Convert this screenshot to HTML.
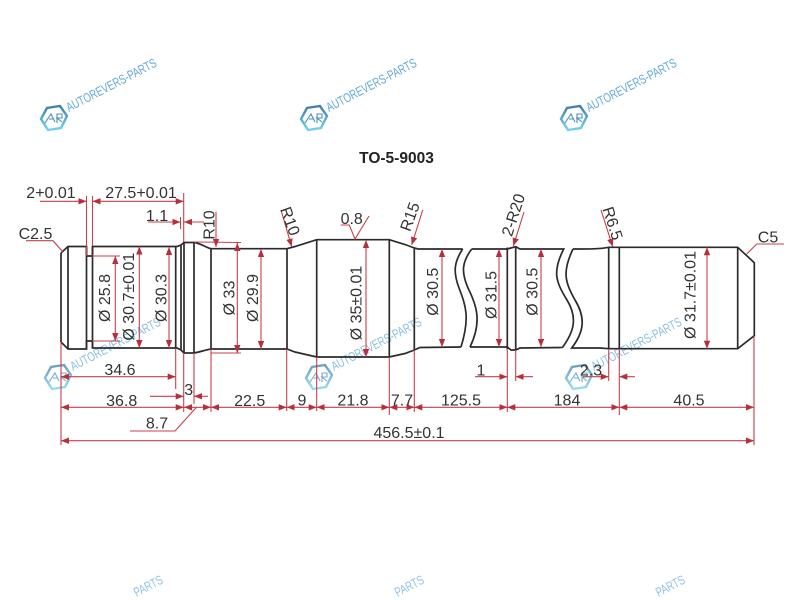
<!DOCTYPE html>
<html><head><meta charset="utf-8"><style>
html,body{margin:0;padding:0;background:#fff;width:800px;height:600px;overflow:hidden}
svg{display:block}
text{font-family:"Liberation Sans",Arial,sans-serif}
.t text{font-size:16px;fill:#333;text-anchor:middle}
.w text{font-size:13px;fill:#62a9d8;stroke:none}
.s path,.s line{fill:none;stroke:#2b2b2b;stroke-width:1.7}
.r line,.r polyline{fill:none;stroke:#c8404a;stroke-width:1.1}
.a line{stroke:#c8404a;stroke-width:1.1;marker-end:url(#h)}
.b line{stroke:#c8404a;stroke-width:1.1;marker-start:url(#h2);marker-end:url(#h)}
</style></head><body>
<svg width="800" height="600" viewBox="0 0 800 600" xmlns="http://www.w3.org/2000/svg">
<defs>
<marker id="h" markerUnits="userSpaceOnUse" viewBox="0 0 8 6.4" refX="8" refY="3.2" markerWidth="8" markerHeight="6.4" orient="auto"><path d="M0 0L8 3.2L0 6.4Z" fill="#b82f3c"/></marker>
<marker id="h2" markerUnits="userSpaceOnUse" viewBox="0 0 8 6.4" refX="0" refY="3.2" markerWidth="8" markerHeight="6.4" orient="auto"><path d="M8 0L0 3.2L8 6.4Z" fill="#b82f3c"/></marker>
<linearGradient id="g" x1="0" y1="0" x2="0" y2="1"><stop offset="0" stop-color="#3f7fa8"/><stop offset="1" stop-color="#72d2f0"/></linearGradient>
</defs>

<g class="w" fill="none" stroke="url(#g)" stroke-width="2.4">
<g transform="translate(54,118)"><path d="M-13 1L-7-10L6-12L13-2L7 10L-6 12Z"/><path d="M-9 5L-3-4L1 4M-5 1L0 1M3 5L3-4L8-4L8 0L3 0L8 4" stroke="#4a90bd" stroke-width="1.1"/><text x="15" y="-6" transform="rotate(-27.5 15 -6)" textLength="100" lengthAdjust="spacingAndGlyphs">AUTOREVERS-PARTS</text></g>
<g transform="translate(314,118)"><path d="M-13 1L-7-10L6-12L13-2L7 10L-6 12Z"/><path d="M-9 5L-3-4L1 4M-5 1L0 1M3 5L3-4L8-4L8 0L3 0L8 4" stroke="#4a90bd" stroke-width="1.1"/><text x="15" y="-6" transform="rotate(-27.5 15 -6)" textLength="100" lengthAdjust="spacingAndGlyphs">AUTOREVERS-PARTS</text></g>
<g transform="translate(574,118)"><path d="M-13 1L-7-10L6-12L13-2L7 10L-6 12Z"/><path d="M-9 5L-3-4L1 4M-5 1L0 1M3 5L3-4L8-4L8 0L3 0L8 4" stroke="#4a90bd" stroke-width="1.1"/><text x="15" y="-6" transform="rotate(-27.5 15 -6)" textLength="100" lengthAdjust="spacingAndGlyphs">AUTOREVERS-PARTS</text></g>
<g transform="translate(58,377)" opacity=".75"><path d="M-13 1L-7-10L6-12L13-2L7 10L-6 12Z"/><path d="M-9 5L-3-4L1 4M-5 1L0 1M3 5L3-4L8-4L8 0L3 0L8 4" stroke="#4a90bd" stroke-width="1.1"/><text x="15" y="-6" transform="rotate(-27.5 15 -6)" textLength="100" lengthAdjust="spacingAndGlyphs">AUTOREVERS-PARTS</text></g>
<g transform="translate(319,377)" opacity=".75"><path d="M-13 1L-7-10L6-12L13-2L7 10L-6 12Z"/><path d="M-9 5L-3-4L1 4M-5 1L0 1M3 5L3-4L8-4L8 0L3 0L8 4" stroke="#4a90bd" stroke-width="1.1"/><text x="15" y="-6" transform="rotate(-27.5 15 -6)" textLength="100" lengthAdjust="spacingAndGlyphs">AUTOREVERS-PARTS</text></g>
<g transform="translate(579,377)" opacity=".75"><path d="M-13 1L-7-10L6-12L13-2L7 10L-6 12Z"/><path d="M-9 5L-3-4L1 4M-5 1L0 1M3 5L3-4L8-4L8 0L3 0L8 4" stroke="#4a90bd" stroke-width="1.1"/><text x="15" y="-6" transform="rotate(-27.5 15 -6)" textLength="100" lengthAdjust="spacingAndGlyphs">AUTOREVERS-PARTS</text></g>
<text x="136.5" y="597" transform="rotate(-27.5 136.5 597)" textLength="31" lengthAdjust="spacingAndGlyphs" opacity=".7">PARTS</text>
<text x="397.5" y="597" transform="rotate(-27.5 397.5 597)" textLength="31" lengthAdjust="spacingAndGlyphs" opacity=".7">PARTS</text>
<text x="658.5" y="597" transform="rotate(-27.5 658.5 597)" textLength="31" lengthAdjust="spacingAndGlyphs" opacity=".7">PARTS</text>
</g>

<text x="396.5" y="163" font-size="15.5" font-weight="bold" fill="#222" text-anchor="middle">TO-5-9003</text>

<g class="s">
<path d="M61 253L68 246.5H86.5V256H92.5V246.5H177L181 245L184 242.5H194C200 243 205 247 211 248.7H287"/>
<path d="M61 342L68 349H86.5V341H92.5V348H177L181 350L184 353H194C200 352 205 350 211 349H287"/>
<path d="M61 253V342M68 246.5V349M86.5 246.5V349M92.5 246.5V348M175.7 246.5V348M181 245V350M184 242.5V353M194 242.5V353M211 248.7V349"/>
<path d="M287 248.7L295 246.5L316.7 239.7H389.3L405 244.5L414.3 248L418 249H462.7"/>
<path d="M287 349L295 352L316.7 357H389.3L405 353.5L414.3 350L420 347.5L461 347"/>
<path d="M287 248.7V349M316.7 239.7V357M389.3 239.7V357M414.3 248V350"/>
<path d="M462.7 249C454 262 453 272 459 288C466 306 470 318 461 347"/>
<path d="M471.7 249C462 262 461 272 468 288C477 306 482 322 470 347"/>
<path d="M471.7 249H507.3L515.7 246.7L520 249H563.7C552 272 556 282 567 300C578 318 574 332 562 348"/>
<path d="M470 347H507.3L511 350H515.7L520 348L561.5 347.5"/>
<path d="M507.3 247.5V349.5M515.7 246.7V350"/>
<path d="M573 249C562 272 565 282 575 300C586 318 584 332 571.7 348H600L608.7 348.7H737.7L754.3 335.7V262.7L737.7 247.3H608.7C600 249 590 249 573 249"/>
<path d="M608.7 247.3V348.7M619.3 247.3V348.7M737.7 247.3V348.7"/>
</g>

<g class="r">
<line x1="86.5" y1="196" x2="86.5" y2="256"/>
<line x1="92.5" y1="196" x2="92.5" y2="246"/>
<line x1="183.7" y1="193" x2="183.7" y2="242"/>
<line x1="183.7" y1="353" x2="183.7" y2="412"/>
<line x1="180.5" y1="217" x2="180.5" y2="229"/>
<line x1="194" y1="242" x2="241" y2="242.5"/>
<line x1="211" y1="353" x2="241" y2="353"/>
<line x1="92" y1="256" x2="120" y2="256"/>
<line x1="92" y1="341" x2="120" y2="341"/>
<line x1="175.7" y1="349" x2="175.7" y2="389"/>
<line x1="194" y1="353" x2="194" y2="404"/>
<line x1="211" y1="349" x2="211" y2="412"/>
<line x1="61" y1="342" x2="61" y2="445"/>
<line x1="754" y1="336" x2="754" y2="445"/>
<line x1="286.7" y1="349" x2="286.7" y2="411"/>
<line x1="316.7" y1="357" x2="316.7" y2="411"/>
<line x1="389.3" y1="357" x2="389.3" y2="415"/>
<line x1="414.3" y1="350" x2="414.3" y2="412"/>
<line x1="507.3" y1="350" x2="507.3" y2="412"/>
<line x1="515.7" y1="350" x2="515.7" y2="381"/>
<line x1="608.7" y1="349" x2="608.7" y2="381"/>
<line x1="619.3" y1="349" x2="619.3" y2="415"/>
<polyline points="26,240.7 53,240.7 63,252"/>
<polyline points="784,244 756.7,244 746.7,254"/>
<polyline points="130,431 175,431 196.7,407"/>
<polyline points="340.7,225 349.3,225 355,239 369,216"/>
</g>

<g class="a">
<line x1="40" y1="201.3" x2="86.5" y2="201.3"/>
<line x1="148" y1="222" x2="180.5" y2="222"/>
<line x1="204" y1="222" x2="184" y2="222"/>
<line x1="216" y1="211.7" x2="216" y2="247"/>
<line x1="150" y1="396.3" x2="183.7" y2="396.3"/>
<line x1="208" y1="396.3" x2="194" y2="396.3"/>
<line x1="281" y1="210" x2="291.7" y2="246.7"/>
<line x1="422.7" y1="210" x2="411.7" y2="245"/>
<line x1="524" y1="212" x2="513.3" y2="246"/>
<line x1="601" y1="210" x2="612.7" y2="246.7"/>
<line x1="475" y1="376.7" x2="507.3" y2="376.7"/>
<line x1="533" y1="376.7" x2="515.7" y2="376.7"/>
<line x1="583" y1="376.7" x2="608.7" y2="376.7"/>
<line x1="635" y1="376.7" x2="619.3" y2="376.7"/>
</g>

<g class="b">
<line x1="92.5" y1="201.3" x2="183.7" y2="201.3"/>
<line x1="115.3" y1="256" x2="115.3" y2="341"/>
<line x1="139.3" y1="246.5" x2="139.3" y2="348"/>
<line x1="169" y1="247" x2="169" y2="348"/>
<line x1="237.3" y1="243" x2="237.3" y2="353"/>
<line x1="261" y1="249" x2="261" y2="349"/>
<line x1="366" y1="240" x2="366" y2="357"/>
<line x1="442" y1="249" x2="442" y2="347"/>
<line x1="499" y1="249" x2="499" y2="347"/>
<line x1="541" y1="249" x2="541" y2="347"/>
<line x1="707" y1="247.3" x2="707" y2="348.7"/>
<line x1="61" y1="376.7" x2="175.7" y2="376.7"/>
<line x1="61" y1="407.3" x2="183.7" y2="407.3"/>
<line x1="184" y1="407.3" x2="211" y2="407.3"/>
<line x1="211" y1="407.3" x2="286.7" y2="407.3"/>
<line x1="286.7" y1="407.3" x2="316.7" y2="407.3"/>
<line x1="316.7" y1="407.3" x2="389.3" y2="407.3"/>
<line x1="389.3" y1="407.3" x2="414.3" y2="407.3"/>
<line x1="414.3" y1="407.3" x2="507.3" y2="407.3"/>
<line x1="507.3" y1="407.3" x2="619.3" y2="407.3"/>
<line x1="619.3" y1="407.3" x2="754" y2="407.3"/>
<line x1="61" y1="440.7" x2="754" y2="440.7"/>
</g>

<g class="t">
<text x="51" y="198">2+0.01</text>
<text x="141" y="198">27.5+0.01</text>
<text x="157" y="221">1.1</text>
<text x="35.5" y="239">C2.5</text>
<text x="768" y="242.7">C5</text>
<text x="120" y="375">34.6</text>
<text x="188.7" y="395">3</text>
<text x="121.7" y="406">36.8</text>
<text x="157" y="428.3">8.7</text>
<text x="249.7" y="406">22.5</text>
<text x="302" y="405.7">9</text>
<text x="353" y="405.7">21.8</text>
<text x="402" y="405.7">7.7</text>
<text x="461" y="405.7">125.5</text>
<text x="567" y="405.7">184</text>
<text x="689" y="405.7">40.5</text>
<text x="409" y="438">456.5±0.1</text>
<text x="481" y="375.7">1</text>
<text x="591" y="375.7">2.3</text>
<text x="351.7" y="224">0.8</text>
<text transform="translate(214.5,225) rotate(-90)">R10</text>
<text transform="translate(110,298) rotate(-90)">Ø 25.8</text>
<text transform="translate(134,296.7) rotate(-90)">Ø 30.7±0.01</text>
<text transform="translate(166.7,298) rotate(-90)">Ø 30.3</text>
<text transform="translate(234.7,298) rotate(-90)">Ø 33</text>
<text transform="translate(258,298) rotate(-90)">Ø 29.9</text>
<text transform="translate(361.7,303) rotate(-90)">Ø 35±0.01</text>
<text transform="translate(438,291.7) rotate(-90)">Ø 30.5</text>
<text transform="translate(496.7,295) rotate(-90)">Ø 31.5</text>
<text transform="translate(537.7,291.7) rotate(-90)">Ø 30.5</text>
<text transform="translate(695.7,295) rotate(-90)">Ø 31.7±0.01</text>
<text transform="translate(285,223) rotate(70)">R10</text>
<text transform="translate(415,218.6) rotate(-70)">R15</text>
<text transform="translate(518.5,216.7) rotate(-72)">2-R20</text>
<text transform="translate(607.5,225) rotate(72)">R6.5</text>
</g>
</svg>
</body></html>
